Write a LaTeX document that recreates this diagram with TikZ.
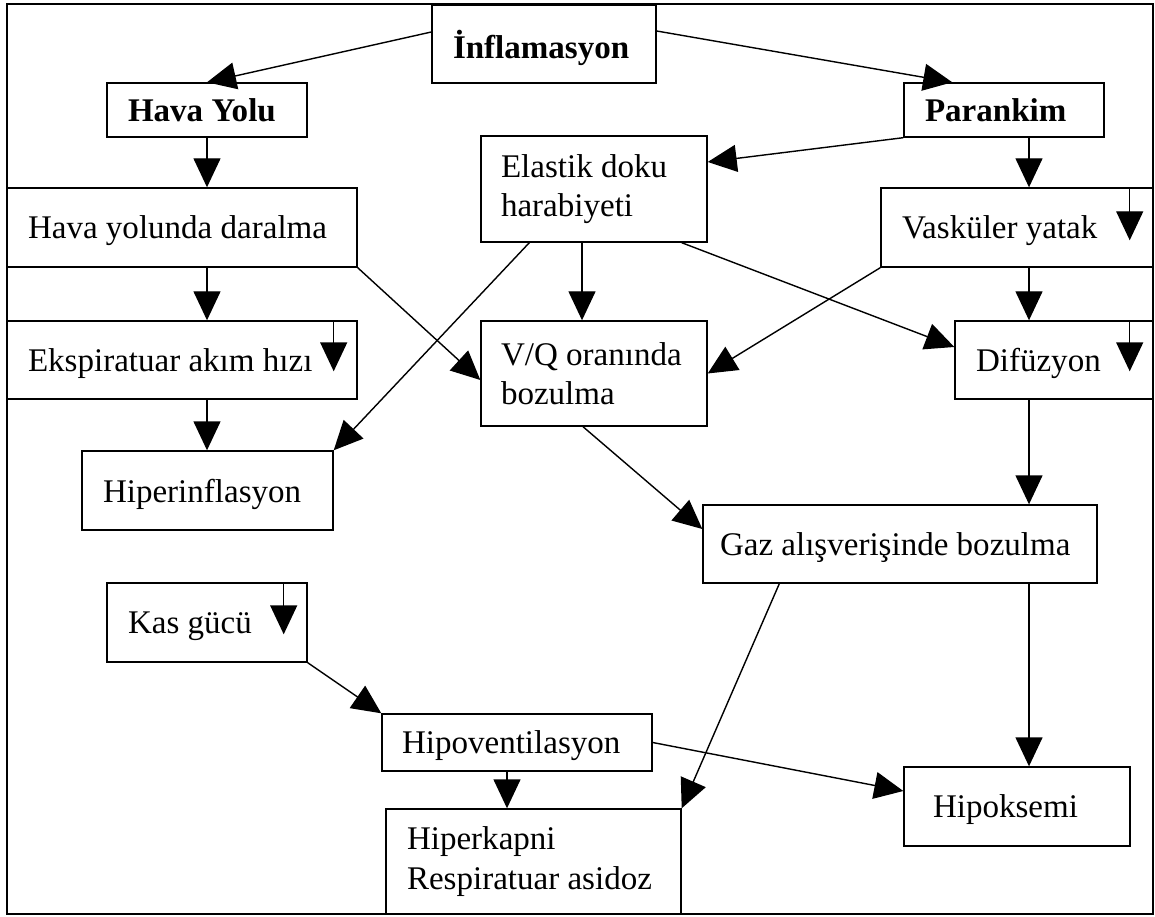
\documentclass[tikz,border=0pt]{standalone}
\usepackage{fontspec}
\setmainfont{Liberation Serif}
\usetikzlibrary{arrows.meta}

\begin{document}
\begin{tikzpicture}[
  box/.style={rectangle, draw, line width=0.8pt, align=flush left, inner xsep=0.42cm,
    text depth=0pt, font=\fontsize{18.8}{22.5}\selectfont},
  twoline/.style={box, text depth={}},
  arr/.style={-{Triangle[length=0.58cm,width=0.54cm]}, line width=0.8pt}
]
  \useasboundingbox (0,0) rectangle (23.1,18.32);
  \draw[line width=0.8pt] (0.14,0.04) rectangle (23.06,18.24);
  \coordinate (rcol) at (20.58,0);

  % Top level
  \node[box, minimum width=4.48cm, minimum height=1.56cm, text width=3.64cm]
    (infl) at (10.88,17.44) {\bfseries İnflamasyon};
  \node[box, minimum width=4cm, minimum height=1.08cm, text width=3.16cm]
    (havayolu) at (4.14,16.12) {\bfseries Hava Yolu};
  \node[box, minimum width=4cm, minimum height=1.08cm, text width=3.16cm]
    (parankim) at (20.08,16.12) {\bfseries Parankim};

  % Middle boxes
  \node[twoline, minimum width=4.52cm, minimum height=2.12cm, text width=3.72cm,
    inner xsep=0.4cm] (elastik) at (11.88,14.54) {Elastik doku\\harabiyeti};
  \node[box, minimum width=7cm, minimum height=1.58cm, text width=6.16cm]
    (daralma) at (3.64,13.77) {Hava yolunda daralma};
  \node[box, minimum width=5.44cm, minimum height=1.58cm, text width=4.6cm]
    (vask) at (20.34,13.77) {Vasküler yatak};
  \node[box, minimum width=7cm, minimum height=1.56cm, text width=6.16cm]
    (ekspir) at (3.64,11.12) {Ekspiratuar akım hızı};
  \node[twoline, minimum width=4.52cm, minimum height=2.1cm, text width=3.72cm,
    inner xsep=0.4cm] (vq) at (11.88,10.85) {V/Q oranında\\bozulma};
  \node[box, minimum width=3.96cm, minimum height=1.56cm, text width=3.12cm]
    (difuz) at (21.08,11.12) {Difüzyon};
  \node[box, minimum width=5.02cm, minimum height=1.58cm, text width=4.18cm]
    (hiperinf) at (4.15,8.51) {Hiperinflasyon};
  \node[box, minimum width=7.88cm, minimum height=1.56cm, text width=7.2cm,
    inner xsep=0.34cm] (gaz) at (18,7.44) {Gaz alışverişinde bozulma};

  % Bottom boxes
  \node[box, minimum width=4cm, minimum height=1.58cm, text width=3.16cm]
    (kas) at (4.14,5.87) {Kas gücü};
  \node[box, minimum width=5.4cm, minimum height=1.14cm, text width=4.6cm,
    inner xsep=0.4cm] (hipovent) at (10.34,3.47) {Hipoventilasyon};
  \node[twoline, minimum width=5.9cm, minimum height=2.1cm, text width=5.06cm]
    (hiperkapni) at (10.67,1.09) {Hiperkapni\\Respiratuar asidoz};
  \node[box, minimum width=4.52cm, minimum height=1.58cm, text width=3.36cm,
    inner xsep=0.58cm] (hipoksemi) at (20.34,2.19) {Hipoksemi};

  % Decrease marks inside boxes
  \draw[arr] ([xshift=-0.48cm]vask.north east) -- ++(0,-1.06);
  \draw[arr] ([xshift=-0.48cm]ekspir.north east) -- ++(0,-1.02);
  \draw[arr] ([xshift=-0.48cm]difuz.north east) -- ++(0,-1.02);
  \draw[arr] ([xshift=-0.48cm]kas.north east) -- ++(0,-1.04);

  % From inflammation
  \draw[arr] ([yshift=0.24cm]infl.west) -- (havayolu.north);
  \draw[arr] ([yshift=0.26cm]infl.east) -- ([xshift=0.98cm]parankim.north west);

  % Airway branch
  \draw[arr] (havayolu.south) -- (havayolu |- daralma.north);
  \draw[arr] (daralma.south -| havayolu) -- (ekspir.north -| havayolu);
  \draw[arr] (ekspir.south -| havayolu) -- (hiperinf.north -| havayolu);
  \draw[arr] (daralma.south east) -- ([yshift=-0.13cm]vq.west);

  % Parenchyma branch
  \draw[arr] (parankim.south west) -- ([yshift=0.54cm]elastik.east);
  \draw[arr] (parankim.south -| rcol) -- (vask.north -| rcol);
  \draw[arr] (vask.south -| rcol) -- (difuz.north -| rcol);
  \draw[arr] (vask.south west) -- (vq.east);
  \draw[arr] ([xshift=0.98cm]elastik.south west) -- (hiperinf.north east);
  \draw[arr] ([xshift=-0.24cm]elastik.south) -- ([xshift=-0.24cm]vq.north);
  \draw[arr] ([xshift=-0.52cm]elastik.south east) -- ([yshift=0.26cm]difuz.west);

  % Gas exchange
  \draw[arr] ([xshift=-0.22cm]vq.south) -- ([yshift=0.3cm]gaz.west);
  \draw[arr] (difuz.south -| rcol) -- (gaz.north -| rcol);
  \draw[arr] (gaz.south -| rcol) -- (hipoksemi.north -| rcol);
  \draw[arr] ([xshift=1.54cm]gaz.south west) -- (hiperkapni.north east);

  % Muscle strength
  \draw[arr] (kas.south east) -- (hipovent.north west);
  \draw[arr] ([xshift=-0.2cm]hipovent.south) -- ([xshift=-0.2cm]hipovent.south |- hiperkapni.north);
  \draw[arr] (hipovent.east) -- ([yshift=0.31cm]hipoksemi.west);
\end{tikzpicture}
\end{document}
